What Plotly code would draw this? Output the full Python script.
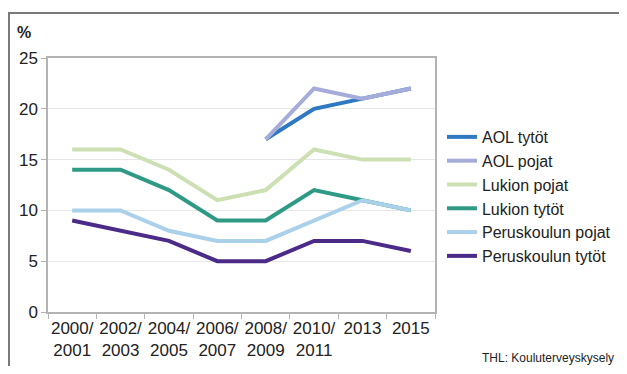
import plotly.graph_objects as go

# ── Data ───────────────────────────────────────────────
years = ["2000/<br>2001", "2002/<br>2003", "2004/<br>2005", "2006/<br>2007",
         "2008/<br>2009", "2010/<br>2011", "2013", "2015"]

aol_tytot = [None, None, None, None, 17, 20, 21, 22]
aol_pojat = [None, None, None, None, 17, 22, 21, 22]
lukion_pojat = [16, 16, 14, 11, 12, 16, 15, 15]
lukion_tytot = [14, 14, 12, 9, 9, 12, 11, 10]
perus_pojat = [10, 10, 8, 7, 7, 9, 11, 10]
perus_tytot = [9, 8, 7, 5, 5, 7, 7, 6]

series = [
    ("AOL tytöt", aol_tytot, "#2f78c2"),
    ("AOL pojat", aol_pojat, "#a6acd9"),
    ("Lukion pojat", lukion_pojat, "#cde0b4"),
    ("Lukion tytöt", lukion_tytot, "#2e9a85"),
    ("Peruskoulun pojat", perus_pojat, "#aad0ea"),
    ("Peruskoulun tytöt", perus_tytot, "#4b2a88"),
]

fig = go.Figure()
for name, vals, color in series:
    fig.add_trace(go.Scatter(
        x=years, y=vals, name=name, mode="lines",
        line=dict(color=color, width=4),
        connectgaps=False,
    ))

font_family = "Liberation Sans, Arial, sans-serif"

# the page body adds an 8px margin on every side, so keep the figure inside the window
fig.update_layout(
    width=611, height=358,
    margin=dict(l=40, r=184, t=50, b=54, autoexpand=False),
    paper_bgcolor="white", plot_bgcolor="white",
    font=dict(family=font_family, size=17, color="#222222"),
    showlegend=True,
    legend=dict(
        x=1.018, y=0.756, xanchor="left", yanchor="top",
        font=dict(size=16, color="#222222"),
        bgcolor="rgba(0,0,0,0)",
        tracegroupgap=0, itemwidth=30,
    ),
    xaxis=dict(
        type="category", range=[-0.5, 7.5], tickangle=0, automargin=False,
        showline=True, linecolor="#b3b3b3", linewidth=1.5, mirror=True,
        ticks="outside", tickson="boundaries", ticklen=5, tickcolor="#b3b3b3",
        showgrid=False, tickfont=dict(size=17),
    ),
    yaxis=dict(
        range=[0, 25], dtick=5, automargin=False,
        showline=True, linecolor="#b3b3b3", linewidth=1.5, mirror=True,
        ticks="outside", ticklen=5, tickcolor="#b3b3b3",
        showgrid=True, gridcolor="#e6e6e6", gridwidth=1,
        zeroline=False, tickfont=dict(size=17),
    ),
    annotations=[
        dict(text="<b>%</b>", xref="paper", yref="paper", x=-0.085, y=1.102,
             xanchor="left", yanchor="middle", showarrow=False,
             font=dict(size=16, color="#222222")),
        dict(text="THL: Kouluterveyskysely", xref="paper", yref="paper",
             x=1.468, y=-0.18, xanchor="right", yanchor="middle",
             showarrow=False, font=dict(size=12, color="#222222")),
    ],
    shapes=[
        dict(type="line", xref="paper", yref="paper", x0=-0.11, x1=1.6,
             y0=1.177, y1=1.177, line=dict(color="#7a7a7a", width=2)),
        dict(type="line", xref="paper", yref="paper", x0=-0.1008, x1=-0.1008,
             y0=1.177, y1=-0.3, line=dict(color="#7a7a7a", width=2)),
    ],
)

fig.write_html("out.html")
